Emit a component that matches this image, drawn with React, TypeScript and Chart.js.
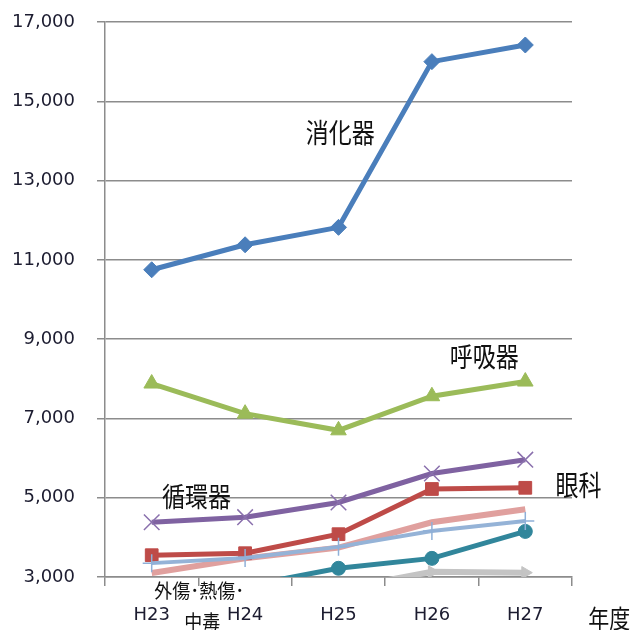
import React, { useEffect, useRef } from "react";
import { Chart, registerables } from "chart.js";

Chart.register(...registerables);

const years = ["H23", "H24", "H25", "H26", "H27"];
const digestive = [10750, 11380, 11820, 16000, 16420];
const respiratory = [7880, 7120, 6700, 7560, 7930];
const circulatory = [4380, 4510, 4880, 5610, 5960];
const ophthalmology = [3550, 3600, 4080, 5220, 5250];
const pinkSeries = [3100, 3470, 3740, 4380, 4710];
const lightBlueSeries = [3350, 3480, 3760, 4160, 4410];
const tealSeries = [2600, 2770, 3220, 3470, 4150];
const injury = [2600, 2650, 2690, 3130, 3110];
const yTicks = [3000, 5000, 7000, 9000, 11000, 13000, 15000, 17000];

const annotations = [
  { text: "消化器", at: 2.02, value: 14200, size: 23, sy: 1.2 },
  { text: "呼吸器", at: 3.56, value: 8550, size: 23, sy: 1.2 },
  { text: "循環器", at: 0.48, value: 5020, size: 23, sy: 1.2 },
  { text: "眼科", at: 4.57, value: 5320, size: 23, sy: 1.25 },
  { text: "外傷･熱傷･", at: 0.51, value: 2670, size: 18, sy: 1.1 },
  { text: "中毒", at: 0.54, value: 1890, size: 18, sy: 1.1 },
  { text: "年度", at: 4.9, value: 1960, size: 21, sy: 1.2 },
];

const labelPlugin = {
  id: "labels",
  afterDraw(chart: any) {
    const { ctx, scales } = chart;
    ctx.save();
    ctx.fillStyle = "#111";
    ctx.textAlign = "center";
    ctx.textBaseline = "middle";
    for (const a of annotations) {
      const x = scales.x.getPixelForValue(a.at);
      const y = scales.y.getPixelForValue(a.value);
      ctx.save();
      ctx.translate(x, y);
      ctx.scale(1, a.sy);
      ctx.font = `${a.size}px "Noto Sans CJK JP"`;
      ctx.fillText(a.text, 0, 0);
      ctx.restore();
    }
    ctx.restore();
  },
};

export default function App() {
  const ref = useRef<HTMLCanvasElement>(null);
  useEffect(() => {
    const base = { fill: false, tension: 0, borderWidth: 5, pointBorderWidth: 1 };
    const chart = new Chart(ref.current!, {
      type: "line",
      data: {
        labels: years,
        datasets: [
          {
            ...base,
            label: "lightblue",
            data: lightBlueSeries,
            borderColor: "#95b3d7",
            pointStyle: "cross",
            pointRadius: 9,
            pointBorderColor: "#8fb0d8",
            pointBorderWidth: 1.5,
            borderWidth: 4,
          },
          {
            ...base,
            label: "teal",
            data: tealSeries,
            borderColor: "#31869b",
            backgroundColor: "#31869b",
            pointBackgroundColor: "#31869b",
            pointBorderColor: "#31869b",
            pointStyle: "circle",
            pointRadius: 7,
            clip: 0,
          },
          {
            ...base,
            label: "眼科",
            data: ophthalmology,
            borderColor: "#be4b48",
            pointBackgroundColor: "#be4b48",
            pointBorderColor: "#be4b48",
            pointStyle: "rect",
            pointRadius: 9,
          },
          {
            ...base,
            label: "pink",
            data: pinkSeries,
            borderColor: "#e0a09e",
            pointRadius: 0,
            borderWidth: 6,
          },
          {
            ...base,
            label: "循環器",
            data: circulatory,
            borderColor: "#7f62a1",
            pointStyle: "crossRot",
            pointRadius: 11,
            pointBorderColor: "#8a70ad",
            pointBorderWidth: 1.5,
          },
          {
            ...base,
            label: "外傷・熱傷・中毒",
            data: injury,
            borderColor: "#c4c4c4",
            pointBackgroundColor: "#c4c4c4",
            pointBorderColor: "#c4c4c4",
            pointStyle: "triangle",
            pointRotation: 90,
            pointRadius: 7,
            borderWidth: 6,
            clip: 0,
          },
          {
            ...base,
            label: "呼吸器",
            data: respiratory,
            borderColor: "#9bbb59",
            pointBackgroundColor: "#9bbb59",
            pointBorderColor: "#9bbb59",
            pointStyle: "triangle",
            pointRadius: 9,
          },
          {
            ...base,
            label: "消化器",
            data: digestive,
            borderColor: "#4a7ebb",
            pointBackgroundColor: "#4a7ebb",
            pointBorderColor: "#4a7ebb",
            pointStyle: "rectRot",
            pointRadius: 8,
          },
        ],
      },
      options: {
        responsive: false,
        animation: false,
        layout: { padding: { top: 22, right: 61, left: 0, bottom: 0 } },
        plugins: { legend: { display: false }, tooltip: { enabled: false } },
        scales: {
          x: {
            type: "category",
            offset: true,
            afterFit: (s: any) => {
              s.height = 53;
              s.paddingLeft = 0;
              s.paddingRight = 0;
            },
            grid: {
              offset: true,
              drawOnChartArea: false,
              color: "#8c8c8c",
              lineWidth: 1.5,
              tickLength: 9,
            },
            border: { color: "#8c8c8c", width: 1.5 },
            ticks: {
              color: "#1c1c30",
              padding: 19,
              font: { family: "DejaVu Sans", size: 18 },
              maxRotation: 0,
            },
          },
          y: {
            min: 3000,
            max: 17000,
            afterFit: (s: any) => {
              s.width = 105;
              s.paddingTop = 0;
              s.paddingBottom = 0;
            },
            afterBuildTicks: (s: any) => {
              s.ticks = yTicks.map((v) => ({ value: v }));
            },
            grid: {
              color: "#8c8c8c",
              lineWidth: 1.5,
              tickLength: 8,
            },
            border: { color: "#8c8c8c", width: 1.5 },
            ticks: {
              color: "#1c1c30",
              padding: 22,
              font: { family: "DejaVu Sans", size: 18 },
              callback: (v: any) => Number(v).toLocaleString("en-US"),
            },
          },
        },
      },
      plugins: [labelPlugin],
    });
    return () => chart.destroy();
  }, []);
  return (
    <canvas
      ref={ref}
      width={633}
      height={630}
      style={{ position: "fixed", left: 0, top: 0, background: "#fff" }}
    />
  );
}
